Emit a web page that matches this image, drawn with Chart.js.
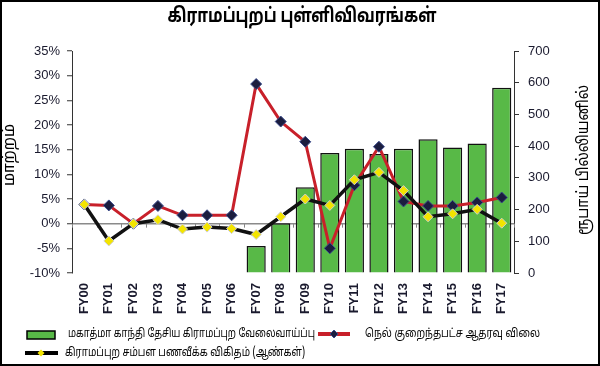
<!DOCTYPE html>
<html><head><meta charset="utf-8">
<script src="https://cdn.jsdelivr.net/npm/chart.js@4/dist/chart.umd.min.js"></script>
<style>html,body{margin:0;padding:0;background:#fff}#wrap{width:600px;height:366px;position:relative}</style>
</head><body><div id="wrap"><canvas id="c" width="600" height="366"></canvas></div>
<script>
const categories = ['FY00','FY01','FY02','FY03','FY04','FY05','FY06','FY07','FY08','FY09','FY10','FY11','FY12','FY13','FY14','FY15','FY16','FY17'];
const mgnregaSpend = [null,null,null,null,null,null,null,85,157,270,378,392,375,392,422,396,408,584];
const paddyMSPChange = [3.9,3.7,0,3.6,1.7,1.7,1.7,28.3,20.7,16.6,-5.0,7.8,15.6,4.5,3.6,3.6,4.3,5.3];
const ruralWageInflation = [3.9,-3.5,0,0.8,-1.1,-0.7,-1.0,-2.2,1.4,5.0,3.7,8.9,10.4,6.7,1.4,2.0,2.9,0.1];
const leftTicks = [-10,-5,0,5,10,15,20,25,30,35];
const rightTicks = [0,100,200,300,400,500,600,700];
const titleText = 'கிராமப்புறப் புள்ளிவிவரங்கள்';
const leftAxisTitle = 'மாற்றம்';
const rightAxisTitle = 'ரூபாய் பில்லியனில்';
const seriesNames = ['மகாத்மா காந்தி தேசிய கிராமப்புற வேலைவாய்ப்பு','நெல் குறைந்தபட்ச ஆதரவு விலை','கிராமப்புற சம்பள பணவீக்க விகிதம் (ஆண்கள்)'];

const TAMIL = '"Noto Sans Tamil","Lohit Tamil","Noto Sans","DejaVu Sans",sans-serif';
const LATIN = '"Liberation Sans",Arial,sans-serif';
const GREEN = '#58b947', RED = '#c8202a', NAVY = '#1b1d3f', YELLOW = '#f3e400';

function diamond(ctx, x, y, r, fill, stroke) {
  ctx.beginPath();
  ctx.moveTo(x, y - r); ctx.lineTo(x + r, y); ctx.lineTo(x, y + r); ctx.lineTo(x - r, y); ctx.closePath();
  ctx.fillStyle = fill; ctx.fill();
  if (stroke) { ctx.strokeStyle = stroke; ctx.lineWidth = 1; ctx.stroke(); }
}

// draw text horizontally fitted to a width; x is left edge (align left) or centre (align center)
function fitText(ctx, text, x, y, width, align) {
  const w = ctx.measureText(text).width;
  const k = width / w;
  ctx.save();
  ctx.translate(x, y);
  ctx.scale(k, 1);
  ctx.textAlign = align;
  ctx.fillText(text, 0, 0);
  ctx.restore();
}

const decor = {
  id: 'decor',
  beforeDatasetsDraw(chart) {
    const ctx = chart.ctx, xs = chart.scales.x, y = chart.scales.y;
    const y0 = y.getPixelForValue(0);
    const half = (xs.getPixelForValue(1) - xs.getPixelForValue(0)) / 2;
    ctx.save(); ctx.strokeStyle = '#888'; ctx.lineWidth = 1;
    for (let i = 0; i <= categories.length; i++) {
      const x = Math.round(xs.getPixelForValue(0) - half + i * 2 * half) + 0.5;
      ctx.beginPath(); ctx.moveTo(x, y0); ctx.lineTo(x, y0 + 4); ctx.stroke();
    }
    ctx.restore();
  },
  afterDraw(chart) {
    const ctx = chart.ctx;
    ctx.save();
    ctx.fillStyle = '#000'; ctx.textBaseline = 'middle';
    // title
    ctx.font = 'bold 20px ' + TAMIL;
    fitText(ctx, titleText, 302, 18, 269, 'center');
    // axis titles
    ctx.font = '16px ' + TAMIL;
    ctx.save(); ctx.translate(11, 155); ctx.rotate(-Math.PI / 2); fitText(ctx, leftAxisTitle, 0, 0, 62, 'center'); ctx.restore();
    ctx.save(); ctx.translate(585, 160); ctx.rotate(-Math.PI / 2); fitText(ctx, rightAxisTitle, 0, 0, 150, 'center'); ctx.restore();
    // legend
    ctx.font = '12px ' + TAMIL;
    ctx.fillStyle = GREEN; ctx.fillRect(27, 331, 28, 8);
    ctx.strokeStyle = '#000'; ctx.lineWidth = 1.5; ctx.strokeRect(27, 331, 28, 8);
    ctx.fillStyle = '#000'; fitText(ctx, seriesNames[0], 68, 335, 247, 'left');
    ctx.strokeStyle = RED; ctx.lineWidth = 4; ctx.beginPath(); ctx.moveTo(318, 334); ctx.lineTo(350, 334); ctx.stroke();
    diamond(ctx, 334, 334, 4, NAVY, '#3a4a8a');
    ctx.fillStyle = '#000'; fitText(ctx, seriesNames[1], 365, 335, 175, 'left');
    ctx.strokeStyle = '#000'; ctx.lineWidth = 4; ctx.beginPath(); ctx.moveTo(25, 353); ctx.lineTo(58, 353); ctx.stroke();
    diamond(ctx, 41, 353, 3.5, YELLOW, null);
    ctx.fillStyle = '#000'; fitText(ctx, seriesNames[2], 65, 354, 240, 'left');
    // frame
    ctx.strokeStyle = '#000'; ctx.lineWidth = 2; ctx.strokeRect(1, 1, 598, 364);
    ctx.restore();
  }
};

new Chart(document.getElementById('c'), {
  data: {
    labels: categories,
    datasets: [
      { type: 'line', label: seriesNames[2], data: ruralWageInflation, yAxisID: 'y', order: 0,
        borderColor: '#111', borderWidth: 3.5, pointStyle: 'rectRot', pointRadius: 5,
        pointBackgroundColor: YELLOW, pointBorderColor: '#d0d0d0', pointBorderWidth: 1, tension: 0 },
      { type: 'line', label: seriesNames[1], data: paddyMSPChange, yAxisID: 'y', order: 1,
        borderColor: RED, borderWidth: 3, pointStyle: 'rectRot', pointRadius: 5.5,
        pointBackgroundColor: NAVY, pointBorderColor: '#3a4a8a', pointBorderWidth: 1, tension: 0 },
      { type: 'bar', label: seriesNames[0], data: mgnregaSpend, yAxisID: 'y1', order: 2,
        backgroundColor: GREEN, borderColor: '#111', borderWidth: 1.5,
        categoryPercentage: 1, barPercentage: 0.78 }
    ]
  },
  options: {
    responsive: false, animation: false, devicePixelRatio: 1,
    layout: { padding: { top: 51, bottom: 0, left: 0, right: 0 } },
    plugins: { legend: { display: false }, tooltip: { enabled: false } },
    scales: {
      x: {
        grid: { display: false, drawTicks: false }, border: { display: false },
        ticks: { minRotation: 90, maxRotation: 90, padding: 10, color: '#1a1a2e',
          font: { family: LATIN, size: 13, weight: 'bold' } },
        afterFit: s => { s.height = 93; }
      },
      y: {
        position: 'left', min: -10, max: 35,
        afterBuildTicks: s => { s.ticks = leftTicks.map(v => ({ value: v })); },
        ticks: { padding: 7, color: '#1a1a2e', font: { family: LATIN, size: 13 }, callback: v => v + '%' },
        grid: { color: c => (c.tick && c.tick.value === 0) ? '#8a8a8a' : 'rgba(0,0,0,0)', lineWidth: 1.5,
          tickColor: '#333', tickLength: 5, tickWidth: 1 },
        border: { color: '#333', width: 1 },
        afterFit: s => { s.width = 72; }
      },
      y1: {
        position: 'right', min: 0, max: 700,
        afterBuildTicks: s => { s.ticks = rightTicks.map(v => ({ value: v })); },
        ticks: { padding: 9, color: '#1a1a2e', font: { family: LATIN, size: 13 } },
        grid: { drawOnChartArea: false, tickColor: '#333', tickLength: 5 },
        border: { color: '#333', width: 1 },
        afterFit: s => { s.width = 86; }
      }
    }
  },
  plugins: [decor]
});
</script>
</body></html>
